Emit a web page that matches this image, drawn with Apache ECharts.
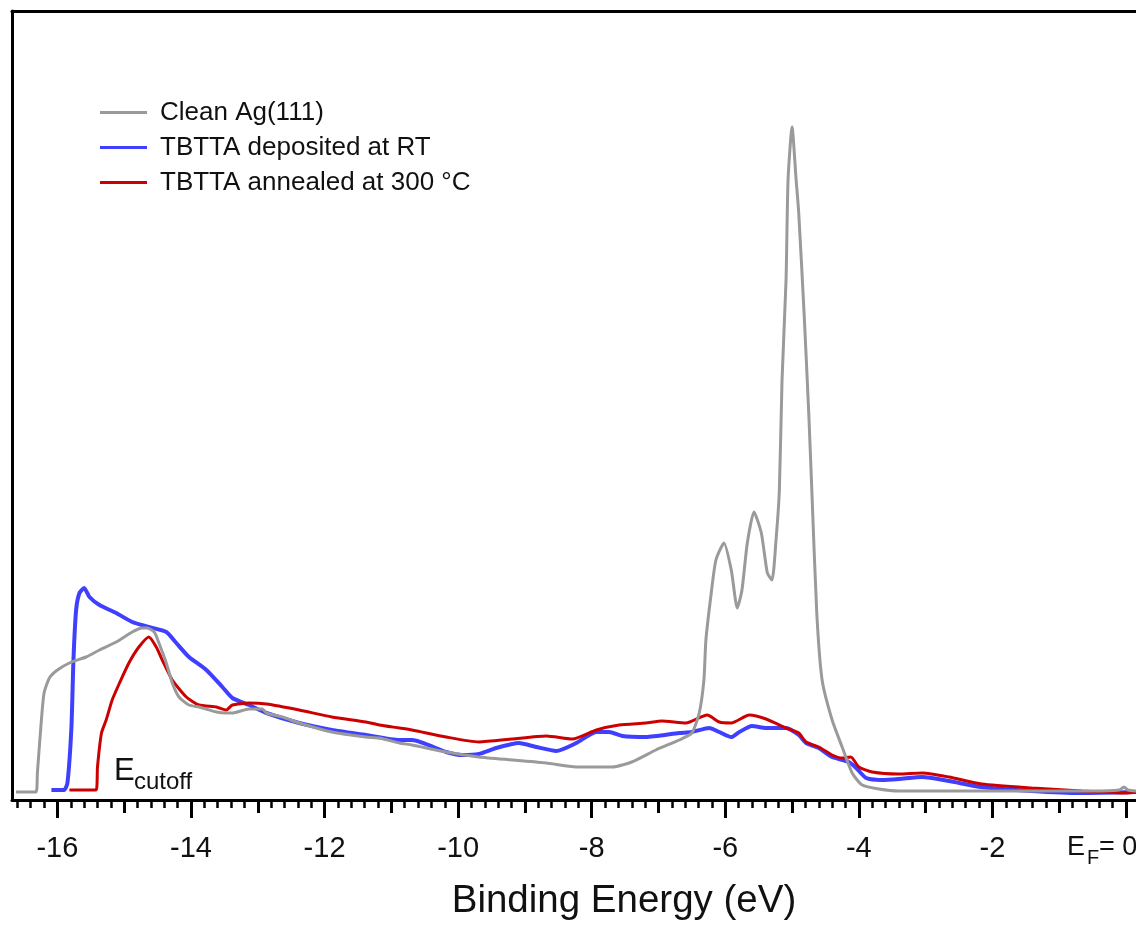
<!DOCTYPE html>
<html>
<head>
<meta charset="utf-8">
<script src="https://cdn.jsdelivr.net/npm/echarts@6/dist/echarts.min.js"></script>
<style>
  html, body { margin: 0; padding: 0; background: #fff; }
  #chart { width: 1136px; height: 926px; }
</style>
</head>
<body>
<div id="chart"></div>
<script>
// ---- Data (binding energy in eV, intensity in arbitrary units) ----
var seriesNames = ['Clean Ag(111)', 'TBTTA deposited at RT', 'TBTTA annealed at 300 °C'];

var cleanAg = [
  [-16.62, 7], [-16.32, 7], [-16.30, 26], [-16.24, 79], [-16.20, 106], [-16.12, 121], [-16.00, 129],
  [-15.79, 137], [-15.57, 142], [-15.37, 149], [-15.12, 157], [-14.88, 167], [-14.73, 171], [-14.66, 171],
  [-14.55, 167], [-14.48, 156], [-14.37, 136], [-14.28, 116], [-14.18, 102], [-14.03, 94], [-13.88, 92],
  [-13.62, 87], [-13.47, 86], [-13.38, 86], [-13.13, 90], [-12.93, 90], [-12.87, 86], [-12.63, 82],
  [-12.38, 76], [-11.89, 67], [-11.38, 62], [-11.18, 61], [-10.88, 56], [-10.69, 54], [-10.18, 47],
  [-9.69, 42], [-9.19, 39], [-8.68, 36], [-8.19, 32], [-7.69, 32], [-7.40, 37], [-7.04, 49], [-6.69, 59],
  [-6.50, 66], [-6.39, 86], [-6.32, 119], [-6.29, 159], [-6.21, 206], [-6.14, 239], [-6.02, 256],
  [-5.91, 229], [-5.82, 191], [-5.75, 209], [-5.67, 256], [-5.57, 287], [-5.46, 266], [-5.37, 226],
  [-5.30, 219], [-5.24, 259], [-5.19, 309], [-5.15, 419], [-5.09, 519], [-5.06, 619], [-5.00, 672],
  [-4.94, 620], [-4.90, 586], [-4.82, 486], [-4.75, 386], [-4.70, 302], [-4.63, 186], [-4.55, 119],
  [-4.40, 79], [-4.25, 52], [-4.10, 26], [-3.95, 14], [-3.70, 10], [-3.40, 8], [-2.0, 8], [-0.5, 8],
  [-0.10, 9], [-0.03, 12], [0.03, 9], [0.15, 8]
];

var depositedRT = [
  [-16.09, 9], [-15.90, 9], [-15.85, 16], [-15.79, 72], [-15.76, 139], [-15.72, 189], [-15.67, 206],
  [-15.60, 211], [-15.52, 202], [-15.37, 194], [-15.12, 186], [-14.88, 177], [-14.63, 172], [-14.37, 167],
  [-14.22, 156], [-14.03, 142], [-13.77, 129], [-13.53, 112], [-13.38, 101], [-13.13, 94], [-12.87, 86],
  [-12.38, 76], [-11.89, 69], [-11.38, 64], [-10.88, 59], [-10.69, 59], [-10.18, 47], [-9.94, 44],
  [-9.69, 45], [-9.43, 51], [-9.09, 56], [-8.83, 52], [-8.53, 48], [-8.23, 56], [-7.93, 67], [-7.74, 67],
  [-7.54, 63], [-7.19, 62], [-6.69, 66], [-6.50, 67], [-6.24, 71], [-6.09, 67], [-5.91, 62], [-5.79, 67],
  [-5.60, 73], [-5.39, 71], [-5.09, 71], [-4.90, 64], [-4.79, 56], [-4.60, 51], [-4.40, 42], [-4.15, 37],
  [-4.04, 31], [-3.89, 21], [-3.65, 19], [-3.40, 20], [-3.05, 22], [-2.65, 18], [-2.16, 12], [-1.41, 8],
  [-0.66, 6], [0.15, 7]
];

var annealed300 = [
  [-15.82, 9], [-15.42, 9], [-15.40, 32], [-15.34, 66], [-15.27, 79], [-15.18, 99], [-15.07, 116],
  [-14.93, 136], [-14.78, 152], [-14.63, 162], [-14.52, 152], [-14.43, 139], [-14.28, 119], [-14.07, 102],
  [-13.88, 94], [-13.62, 92], [-13.47, 89], [-13.38, 94], [-13.13, 96], [-12.87, 95], [-12.38, 89],
  [-11.89, 82], [-11.38, 77], [-11.18, 74], [-10.88, 71], [-10.69, 69], [-10.18, 62], [-9.69, 57],
  [-9.19, 60], [-8.68, 63], [-8.29, 60], [-7.93, 69], [-7.59, 74], [-7.19, 76], [-6.95, 78], [-6.59, 76],
  [-6.27, 84], [-6.09, 77], [-5.91, 76], [-5.64, 84], [-5.39, 80], [-5.09, 71], [-4.90, 66], [-4.79, 57],
  [-4.60, 52], [-4.40, 44], [-4.25, 41], [-4.12, 42], [-4.00, 32], [-3.80, 27], [-3.40, 25], [-3.05, 26],
  [-2.65, 22], [-2.16, 15], [-1.41, 11], [-0.66, 8], [0.00, 6], [0.15, 7]
];

// ---- Axis ticks / labels ----
var majorTicks = [-16, -14, -12, -10, -8, -6, -4, -2, 0];
var tickLabels = [-16, -14, -12, -10, -8, -6, -4, -2];
var midTicks = [-15, -13, -11, -9, -7, -5, -3, -1];
var minorTicks = [];
for (var i = -83; i <= 0; i++) {
  if (i % 5 !== 0) minorTicks.push(Math.round(i * 0.2 * 100) / 100);
}

var X_MIN = -16.68, X_MAX = 0.15;
var FONT = '"Liberation Sans", Arial, Helvetica, sans-serif';

var chart = echarts.init(document.getElementById('chart'), null, { renderer: 'canvas' });

function baseX(extra) {
  var o = {
    type: 'value', min: X_MIN, max: X_MAX, position: 'bottom', gridIndex: 0,
    splitLine: { show: false },
    axisLine: { show: false, onZero: false },
    axisTick: { show: false },
    axisLabel: { show: false }
  };
  for (var k in extra) o[k] = extra[k];
  return o;
}

var option = {
  animation: false,
  backgroundColor: '#ffffff',
  grid: { left: 12, top: 11, right: 0, bottom: 126 },
  legend: {
    orient: 'vertical',
    left: 100,
    top: 97,
    padding: 0,
    icon: 'rect',
    itemWidth: 47,
    itemHeight: 3,
    itemGap: 4,
    textStyle: { fontSize: 26, fontFamily: FONT, color: '#111', lineHeight: 31, padding: [0, 0, 0, 8] },
    data: seriesNames
  },
  xAxis: [
    baseX({
      axisLine: { show: true, onZero: false, lineStyle: { color: '#000', width: 3 } },
      axisTick: { show: true, length: 18, customValues: majorTicks, lineStyle: { color: '#000', width: 3 } },
      axisLabel: { show: true, customValues: tickLabels, fontSize: 29, fontFamily: FONT, color: '#111', margin: 34 },
      name: 'Binding Energy (eV)',
      nameLocation: 'middle',
      nameGap: 82,
      nameTextStyle: { fontSize: 38.5, fontFamily: FONT, color: '#111', padding: [0, 0, 0, 100] }
    }),
    baseX({
      axisTick: { show: true, length: 13, customValues: midTicks, lineStyle: { color: '#000', width: 3 } }
    }),
    baseX({
      axisTick: { show: true, length: 8, customValues: minorTicks, lineStyle: { color: '#000', width: 2.5 } }
    }),
    baseX({
      position: 'top',
      axisLine: { show: true, onZero: false, lineStyle: { color: '#000', width: 3 } }
    })
  ],
  yAxis: {
    type: 'value', min: -1, max: 788, position: 'left',
    axisLine: { show: true, onZero: false, lineStyle: { color: '#000', width: 3 } },
    axisTick: { show: false },
    axisLabel: { show: false },
    splitLine: { show: false }
  },
  series: [
    {
      name: seriesNames[0], type: 'line', xAxisIndex: 0, data: cleanAg,
      symbol: 'none', smooth: 0.2, z: 3,
      lineStyle: { color: '#9a9a9a', width: 3 }, itemStyle: { color: '#9a9a9a' }
    },
    {
      name: seriesNames[1], type: 'line', xAxisIndex: 0, data: depositedRT,
      symbol: 'none', smooth: 0.2, z: 2,
      lineStyle: { color: '#3f3fff', width: 4 }, itemStyle: { color: '#3f3fff' }
    },
    {
      name: seriesNames[2], type: 'line', xAxisIndex: 0, data: annealed300,
      symbol: 'none', smooth: 0.2, z: 2,
      lineStyle: { color: '#cc0000', width: 3 }, itemStyle: { color: '#cc0000' }
    }
  ],
  graphic: [
    { type: 'text', left: 114, top: 756, style: { text: 'E', fontSize: 31, fontFamily: FONT, fill: '#111' } },
    { type: 'text', left: 134, top: 770, style: { text: 'cutoff', fontSize: 24, fontFamily: FONT, fill: '#111' } },
    { type: 'text', left: 1067, top: 834, style: { text: 'E', fontSize: 27, fontFamily: FONT, fill: '#111' } },
    { type: 'text', left: 1087, top: 848, style: { text: 'F', fontSize: 20, fontFamily: FONT, fill: '#111' } },
    { type: 'text', left: 1099, top: 834, style: { text: '= 0', fontSize: 27, fontFamily: FONT, fill: '#111' } }
  ]
};

chart.setOption(option);
</script>
</body>
</html>
